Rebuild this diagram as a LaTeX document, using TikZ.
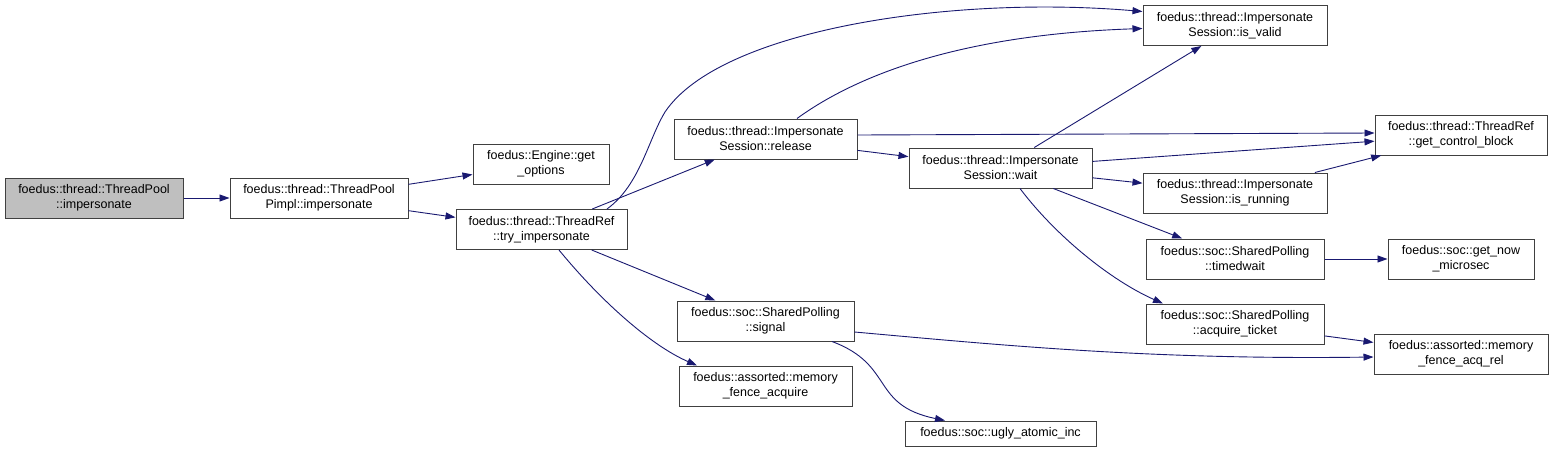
\documentclass[tikz,border=0pt]{standalone}
\usepackage{fontspec}
\setmainfont{Liberation Sans}
\usetikzlibrary{arrows.meta}
\definecolor{edgeblue}{RGB}{25,25,112}
\definecolor{boxline}{RGB}{64,64,64}
\begin{document}
\begin{tikzpicture}[x=1pt, y=-1pt,
    fn/.style={draw=boxline, line width=1pt, fill=white, align=center, inner sep=0pt,
               minimum height=40pt, font=\fontsize{12.5}{15}\selectfont},
    call/.style={draw=edgeblue, line width=0.9pt, -{Triangle[length=10pt,width=7pt]}}]
    \useasboundingbox (0,0) rectangle (1553,453);

    % Fonctions appelees
    \node[fn, fill=black!25, minimum width=178pt] (pool) at (94,198) {foedus::thread::ThreadPool\\::impersonate};
    \node[fn, minimum width=178pt] (pimpl) at (319,198) {foedus::thread::ThreadPool\\Pimpl::impersonate};
    \node[fn, minimum width=136pt] (getopt) at (541,164) {foedus::Engine::get\\\_options};
    \node[fn, minimum width=171pt] (tryimp) at (541.5,229.5) {foedus::thread::ThreadRef\\::try\_impersonate};
    \node[fn, minimum width=183pt] (release) at (765.5,139) {foedus::thread::Impersonate\\Session::release};
    \node[fn, minimum width=177pt] (signal) at (765.5,321) {foedus::soc::SharedPolling\\::signal};
    \node[fn, minimum width=173pt] (fenceacq) at (765.5,386) {foedus::assorted::memory\\\_fence\_acquire};
    \node[fn, minimum width=183pt] (wait) at (1000.5,168) {foedus::thread::Impersonate\\Session::wait};
    \node[fn, minimum width=191pt, minimum height=25pt] (ugly) at (1000.5,433.5) {foedus::soc::ugly\_atomic\_inc};
    \node[fn, minimum width=184pt] (isvalid) at (1235,25.5) {foedus::thread::Impersonate\\Session::is\_valid};
    \node[fn, minimum width=184pt] (isrunning) at (1235,193) {foedus::thread::Impersonate\\Session::is\_running};
    \node[fn, minimum width=178pt] (timedwait) at (1235,259) {foedus::soc::SharedPolling\\::timedwait};
    \node[fn, minimum width=178pt] (acqticket) at (1235,324) {foedus::soc::SharedPolling\\::acquire\_ticket};
    \node[fn, minimum width=172pt] (getcb) at (1461,135) {foedus::thread::ThreadRef\\::get\_control\_block};
    \node[fn, minimum width=146pt] (getnow) at (1461,259) {foedus::soc::get\_now\\\_microsec};
    \node[fn, minimum width=174pt] (acqrel) at (1461,354) {foedus::assorted::memory\\\_fence\_acq\_rel};

    % Appels directs
    \draw[call] (pool) -- (pimpl);
    \draw[call] (pimpl) -- (getopt);
    \draw[call] (pimpl) -- (tryimp);
    \draw[call] (tryimp) -- (release);
    \draw[call] (tryimp) -- (signal);
    \draw[call] (release) -- (wait);
    \draw[call] ([yshift=4pt]release.east) -- ([yshift=2pt]getcb.west);
    \draw[call] (wait) -- (isvalid);
    \draw[call] (wait) -- (getcb);
    \draw[call] (wait) -- (isrunning);
    \draw[call] (wait) -- (timedwait);
    \draw[call] (isrunning) -- (getcb);
    \draw[call] (timedwait) -- (getnow);
    \draw[call] (acqticket) -- (acqrel);

    % Appels en courbe
    \draw[call] ([xshift=65.5pt]tryimp.north) .. controls (640,185) and (648,140) .. (665,112)
        .. controls (720,30) and (950,-5) .. ([yshift=14pt]isvalid.west);
    \draw[call] ([xshift=31.5pt]release.north) .. controls (850,80) and (950,35) .. ([yshift=-3pt]isvalid.west);
    \draw[call] ([xshift=17.5pt]tryimp.south) .. controls (600,300) and (650,345) .. ([xshift=-68.5pt]fenceacq.north);
    \draw[call] ([xshift=19.5pt]wait.south) .. controls (1055,235) and (1110,280) .. ([xshift=-72pt]acqticket.north);
    \draw[call] ([yshift=-11pt]signal.east) .. controls (1000,345) and (1150,360) .. ([yshift=-3pt]acqrel.west);
    \draw[call] ([xshift=66.5pt]signal.south) .. controls (895,365) and (870,405) .. ([xshift=-55.5pt]ugly.north);
\end{tikzpicture}
\end{document}
